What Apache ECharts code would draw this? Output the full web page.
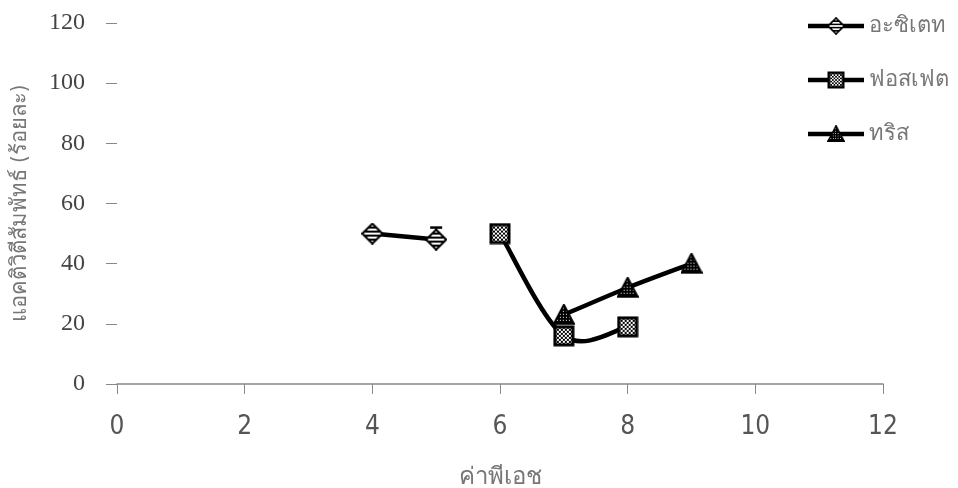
<!DOCTYPE html>
<html><head><meta charset="utf-8">
<script src="https://cdn.jsdelivr.net/npm/echarts@6/dist/echarts.min.js"></script>
<style>html,body{margin:0;padding:0;background:#fff}#c{width:958px;height:488px}</style>
</head><body><div id="c"></div>
<script>
const seriesNames = ['อะซิเตท', 'ฟอสเฟต', 'ทริส'];
const acetatePH = [4, 5];
const acetateVal = [50, 48];
const phosphatePH = [6, 7, 8];
const phosphateVal = [50, 16, 19];
const trisPH = [7, 8, 9];
const trisVal = [23, 32, 40];
const acetateErr = [[5, 48, 52]];
const phosphateErr = [[6, 50, 52]];
const xTitle = 'ค่าพีเอช';
const yTitle = 'แอคติวิตีสัมพัทธ์ (ร้อยละ)';

function markerImage(kind) {
  const W = 22, H = 22;
  const c = document.createElement('canvas');
  c.width = W; c.height = H;
  const ctx = c.getContext('2d');
  ctx.beginPath();
  if (kind === 'diamond') {
    ctx.moveTo(W / 2, 1); ctx.lineTo(W - 1, H / 2); ctx.lineTo(W / 2, H - 1); ctx.lineTo(1, H / 2); ctx.closePath();
  } else if (kind === 'rect') {
    ctx.rect(2, 2, W - 4, H - 4);
  } else {
    ctx.moveTo(W / 2, 1); ctx.lineTo(W - 1, H - 2); ctx.lineTo(1, H - 2); ctx.closePath();
  }
  ctx.save();
  ctx.clip();
  ctx.fillStyle = '#fff'; ctx.fillRect(0, 0, W, H);
  ctx.fillStyle = '#000';
  if (kind === 'diamond') {
    for (let y = 0; y < H; y += 4) ctx.fillRect(0, y, W, 2);
  } else if (kind === 'rect') {
    for (let y = 0; y < H; y += 2) for (let x = 0; x < W; x += 2) if (((x + y) / 2) % 2 === 0) ctx.fillRect(x, y, 2, 2);
  } else {
    ctx.fillRect(0, 0, W, H);
    ctx.fillStyle = '#fff';
    for (let y = 1; y < H; y += 3) for (let x = 1; x < W; x += 3) ctx.fillRect(x, y, 1, 1);
  }
  ctx.restore();
  ctx.lineWidth = kind === 'rect' ? 3 : 2;
  ctx.strokeStyle = '#000';
  ctx.stroke();
  return 'image://' + c.toDataURL();
}

function zip(xs, ys) { return xs.map((x, i) => [x, ys[i]]); }

// Smoothed line (Catmull-Rom style, tension 1/6) drawn through the axes' coordinate mapping
function curveSeries(xs, ys) {
  return {
    type: 'custom', silent: true, z: 2,
    renderItem: function (params, api) {
      if (params.dataIndex !== 0) return;
      const P = xs.map((x, i) => api.coord([x, ys[i]]));
      const n = P.length;
      const path = [['M', P[0][0], P[0][1]]];
      for (let i = 0; i < n - 1; i++) {
        const p0 = P[Math.max(i - 1, 0)], p1 = P[i], p2 = P[i + 1], p3 = P[Math.min(i + 2, n - 1)];
        const c1 = [p1[0] + (p2[0] - p0[0]) / 6, p1[1] + (p2[1] - p0[1]) / 6];
        const c2 = [p2[0] - (p3[0] - p1[0]) / 6, p2[1] - (p3[1] - p1[1]) / 6];
        path.push(['C', c1[0], c1[1], c2[0], c2[1], p2[0], p2[1]]);
      }
      const d = path.map(s => s[0] + s.slice(1).join(',')).join(' ');
      return {
        type: 'path',
        shape: { pathData: d },
        style: { fill: null, stroke: '#000', lineWidth: 4.5, lineJoin: 'round' }
      };
    },
    data: zip(xs, ys)
  };
}

function errSeries(data) {
  return {
    type: 'custom', silent: true, z: 1,
    renderItem: function (params, api) {
      const x = api.value(0);
      const lo = api.coord([x, api.value(1)]);
      const hi = api.coord([x, api.value(2)]);
      return { type: 'group', children: [
        { type: 'line', shape: { x1: lo[0], y1: lo[1], x2: hi[0], y2: hi[1] }, style: { stroke: '#000', lineWidth: 2 } },
        { type: 'line', shape: { x1: hi[0] - 6, y1: hi[1], x2: hi[0] + 6, y2: hi[1] }, style: { stroke: '#000', lineWidth: 2.5 } }
      ]};
    },
    data: data
  };
}

const narrow = "'Liberation Sans Narrow', 'DejaVu Sans Condensed', 'Noto Sans', sans-serif";
const chart = echarts.init(document.getElementById('c'));
const hiddenLine = { color: '#000', width: 4.5, opacity: 0 };
chart.setOption({
  animation: false,
  backgroundColor: '#fff',
  grid: { left: 117, right: 75, top: 23, bottom: 104, containLabel: false, outerBoundsMode: 'none' },
  legend: {
    orient: 'vertical', right: 4, top: 10, itemGap: 32,
    itemWidth: 56, itemHeight: 22,
    lineStyle: { color: '#000', width: 4.5, opacity: 1 },
    textStyle: { color: '#777', fontSize: 22, fontFamily: narrow },
    data: seriesNames
  },
  xAxis: {
    type: 'value', min: 0, max: 12, interval: 2,
    name: xTitle, nameLocation: 'middle', nameGap: 82,
    nameTextStyle: { color: '#777', fontSize: 24, fontFamily: narrow },
    axisLine: { show: true, lineStyle: { color: '#888', width: 1.5 } },
    axisTick: { show: true, length: 10, lineStyle: { color: '#888' } },
    axisLabel: { color: '#555', fontSize: 26, margin: 30, fontFamily: narrow },
    splitLine: { show: false }
  },
  yAxis: {
    type: 'value', min: 0, max: 120, interval: 20,
    name: yTitle, nameLocation: 'middle', nameGap: 86, nameRotate: 90,
    nameTextStyle: { color: '#777', fontSize: 22, fontFamily: narrow },
    axisLine: { show: false },
    axisTick: { show: true, length: 11, lineStyle: { color: '#888' } },
    axisLabel: { color: '#444', fontSize: 24, margin: 32, fontFamily: "'Liberation Serif', serif" },
    splitLine: { show: false }
  },
  series: [
    errSeries(acetateErr),
    errSeries(phosphateErr),
    curveSeries(acetatePH, acetateVal),
    curveSeries(phosphatePH, phosphateVal),
    curveSeries(trisPH, trisVal),
    {
      name: seriesNames[0], type: 'line', data: zip(acetatePH, acetateVal), z: 3,
      symbol: markerImage('diamond'), symbolSize: 22,
      lineStyle: hiddenLine, itemStyle: { color: '#000' }
    },
    {
      name: seriesNames[1], type: 'line', data: zip(phosphatePH, phosphateVal), z: 3,
      symbol: markerImage('rect'), symbolSize: 22,
      lineStyle: hiddenLine, itemStyle: { color: '#000' }
    },
    {
      name: seriesNames[2], type: 'line', data: zip(trisPH, trisVal), z: 3,
      symbol: markerImage('tri'), symbolSize: 22,
      lineStyle: hiddenLine, itemStyle: { color: '#000' }
    }
  ]
});
</script></body></html>
